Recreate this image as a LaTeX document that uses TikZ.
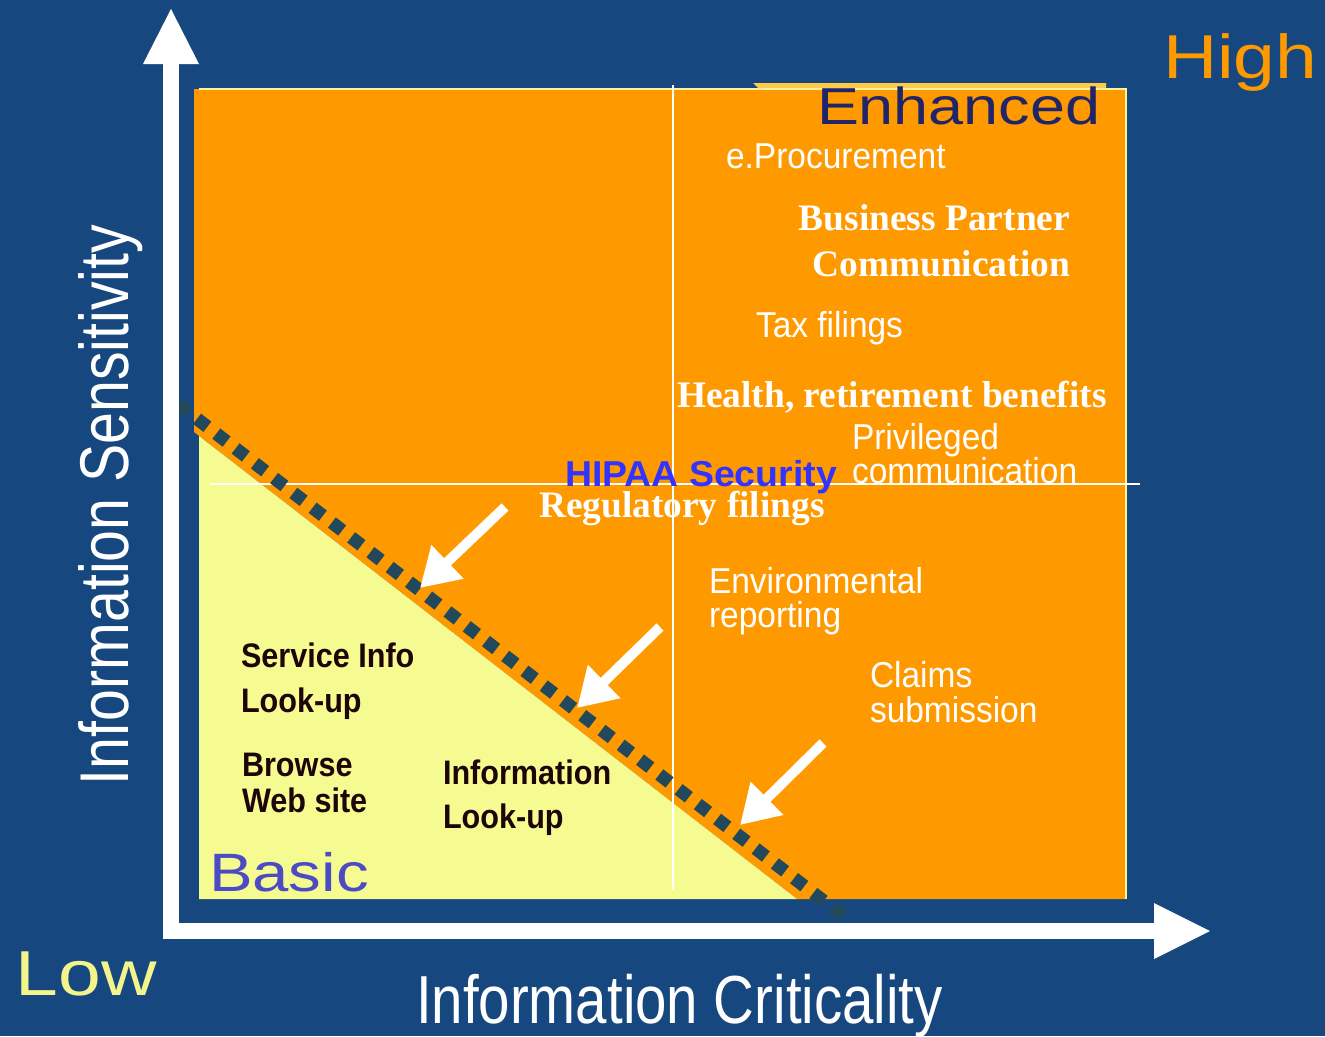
\documentclass[tikz,border=0pt]{standalone}
\usepackage{fontspec}
\setmainfont{Liberation Sans}
\newfontfamily\widesans[FakeStretch=1.21]{Liberation Sans}
\newfontfamily\narrowsans[FakeStretch=0.93]{Liberation Sans}
\newfontfamily\darksans[FakeStretch=0.9]{Liberation Sans}
\newfontfamily\axissans[FakeStretch=0.83]{Liberation Sans}
\newfontfamily\hipaasans[FakeStretch=1.04]{Liberation Sans}
\newfontfamily\timesfont{Liberation Serif}
\usetikzlibrary{arrows.meta}

\definecolor{bgblue}{HTML}{16487F}
\definecolor{hiorange}{HTML}{FF9900}
\definecolor{lowyellow}{HTML}{F5FA91}
\definecolor{tabgold}{HTML}{FFC94A}
\definecolor{paleedge}{HTML}{FFF3A0}
\definecolor{dotteal}{HTML}{22485B}
\definecolor{navytext}{HTML}{202468}
\definecolor{basicblue}{HTML}{4B4BC4}
\definecolor{hipaablue}{HTML}{3333FF}
\definecolor{darktext}{HTML}{1E0608}
\definecolor{lowtext}{HTML}{F3F58C}

\begin{document}
\begin{tikzpicture}[x=1pt,y=-1pt,
  lbl/.style={inner sep=0pt, outer sep=0pt, anchor=base west},
  lble/.style={inner sep=0pt, outer sep=0pt, anchor=base east},
  wlbl/.style={lbl, text=white, font=\narrowsans\fontsize{36}{36}\selectfont},
  dlbl/.style={lbl, text=darktext, font=\darksans\bfseries\fontsize{34}{34}\selectfont},
  slbl/.style={text=white, font=\timesfont\bfseries\fontsize{37.4}{37.4}\selectfont},
  axislbl/.style={lbl, text=white, font=\axissans\fontsize{68}{68}\selectfont},
  pointer/.style={white, line width=10pt, -{Triangle[length=38pt,width=44pt]}},
  gridline/.style={white, line width=2pt},
  boundary/.style={dotteal, line width=13pt, dash pattern=on 13pt off 11.3pt}
]
\useasboundingbox (0,0) rectangle (1325,1036);
\fill[bgblue] (0,0) rectangle (1325,1036);

% tab above the enhanced zone
\fill[tabgold] (753,83) -- (1106,83) -- (1106,90) -- (760,90) -- cycle;

% enhanced zone
\fill[hiorange] (194,89) -- (1126,89) -- (1126,899) -- (797,899) -- (194,432) -- cycle;
\draw[paleedge, line width=1.5pt] (199,89) -- (1126,89) -- (1126,899);

% basic zone
\fill[lowyellow] (199,436) -- (797,899) -- (199,899) -- cycle;

% quadrant lines
\draw[gridline] (673,85) -- (673,890);
\draw[gridline] (210,484) -- (1140,484);

% boundary between basic and enhanced
\draw[boundary] (177.8,404) -- (843.2,916);

% axes
\fill[white] (163,64) rectangle (179,939);
\fill[white] (143,64) -- (171,9) -- (199,64) -- cycle;
\fill[white] (163,923) rectangle (1154,939);
\fill[white] (1154,903) -- (1210,931) -- (1154,959) -- cycle;

% pointers onto the boundary
\coordinate (p1s) at (505,507); \coordinate (p1e) at (420,588);
\coordinate (p2s) at (660,627); \coordinate (p2e) at (577,708);
\coordinate (p3s) at (823,743); \coordinate (p3e) at (740,825);
\draw[pointer] (p1s) -- (p1e);
\draw[pointer] (p2s) -- (p2e);
\draw[pointer] (p3s) -- (p3e);

% scale ends and zone names
\node[lbl, text=hiorange, font=\widesans\fontsize{62}{62}\selectfont] (high) at (1163,78) {High};
\node[lbl, text=lowtext, font=\widesans\fontsize{63.5}{63.5}\selectfont] (low) at (16,995) {Low};
\node[lbl, text=navytext, font=\widesans\fontsize{52}{52}\selectfont] (enh) at (817,124) {Enhanced};
\node[lbl, text=basicblue, font=\widesans\fontsize{54}{54}\selectfont] (basic) at (209,891) {Basic};

% axis titles
\node[axislbl] (xtitle) at (416,1023) {Information Criticality};
\node[axislbl, rotate=90, font=\axissans\fontsize{69}{69}\selectfont] (ytitle) at (128,785) {Information Sensitivity};

% enhanced services
\node[wlbl] (eproc) at (726,168) {e.Procurement};
\node[slbl, lble] (bpa) at (1070,230) {Business Partner};
\node[slbl, lble] (bpb) at (1070,276) {Communication};
\node[wlbl] (tax) at (756,337) {Tax filings};
\node[slbl, lbl] (health) at (677,407) {Health, retirement benefits};
\node[wlbl] (priva) at (852,449) {Privileged};
\node[wlbl] (privb) at (852,483) {communication};
\node[lbl, text=hipaablue, font=\hipaasans\bfseries\fontsize{36}{36}\selectfont] (hipaa) at (565,486) {HIPAA Security};
\node[slbl, lbl] (reg) at (539,517) {Regulatory filings};
\node[wlbl] (enva) at (709,593) {Environmental};
\node[wlbl] (envb) at (709,627) {reporting};
\node[wlbl] (claima) at (870,687) {Claims};
\node[wlbl] (claimb) at (870,722) {submission};

% basic services
\node[dlbl] (svca) at (241,667) {Service Info};
\node[dlbl] (svcb) at (241,712) {Look-up};
\node[dlbl] (brwa) at (242,776) {Browse};
\node[dlbl] (brwb) at (242,812) {Web site};
\node[dlbl] (infa) at (443,784) {Information};
\node[dlbl] (infb) at (443,828) {Look-up};
\end{tikzpicture}
\end{document}
